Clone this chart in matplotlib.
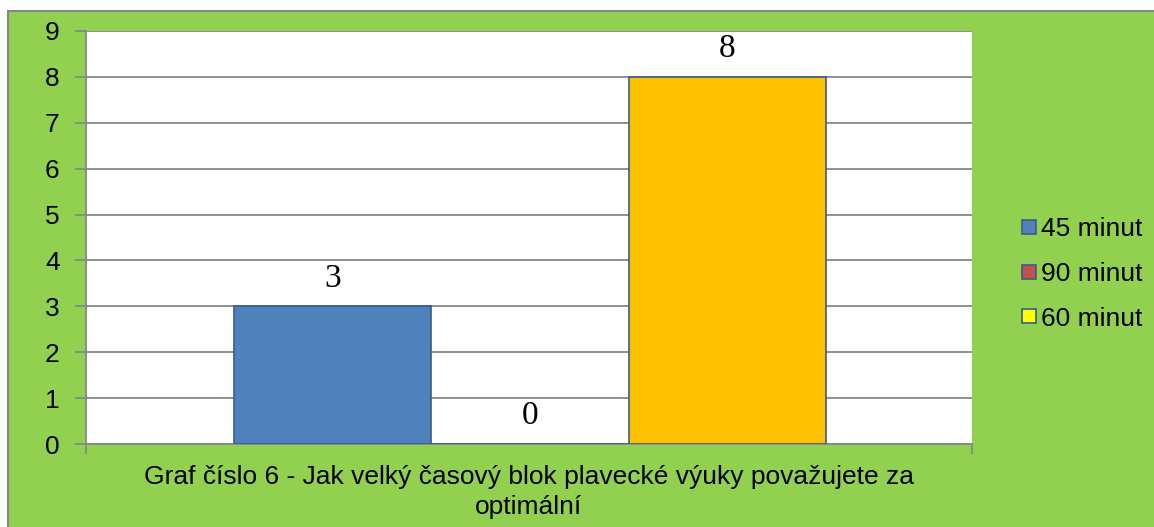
import matplotlib
matplotlib.use("Agg")
import matplotlib.pyplot as plt
from matplotlib.patches import Rectangle
from matplotlib.lines import Line2D

series = ["45 minut", "90 minut", "60 minut"]
values = [3, 0, 8]
yticks = [0, 1, 2, 3, 4, 5, 6, 7, 8, 9]
caption = "Graf číslo 6 - Jak velký časový blok plavecké výuky považujete za\noptimální"

bar_colors = ["#4F81BD", "#C0504D", "#FFC000"]
legend_colors = ["#4F81BD", "#C0504D", "#FFFF00"]
edge = "#385D8A"
green = "#92D050"
grey = "#878787"

W, H = 1154, 527
fig = plt.figure(figsize=(W / 100, H / 100), dpi=100)
fig.patch.set_facecolor("white")

# green chart background with grey left/top border
bg = Rectangle((8 / W, -0.01), 1.01, 1 - 11 / H + 0.01, transform=fig.transFigure,
               facecolor=green, edgecolor=grey, linewidth=1.5, zorder=-5)
fig.patches.append(bg)

ax = fig.add_axes([86 / W, 1 - 444 / H, (972 - 86) / W, (444 - 31) / H])
ax.set_zorder(1)
ax.set_facecolor("white")

xs = list(range(len(series)))
bars = ax.bar(xs, values, width=1.0, color=bar_colors, edgecolor=edge, linewidth=1.2, zorder=3)
for x, v in zip(xs, values):
    ax.annotate(str(v), (x, v), xytext=(0, 28), textcoords="offset pixels",
                ha="center", va="center", fontsize=24, family="Liberation Serif", zorder=4)

ax.set_xlim(-1.25, 3.24)
ax.set_ylim(0, 9)
ax.set_yticks(yticks)
ax.set_yticklabels([str(t) for t in yticks], fontsize=19, family="Liberation Sans")
ax.grid(axis="y", color=grey, linewidth=1.3, zorder=1)
ax.set_axisbelow(True)
ax.set_xticks([-1.25, 3.24])
ax.set_xticklabels(["", ""])
ax.tick_params(axis="x", direction="out", length=7, width=1.3, color=grey)
ax.tick_params(axis="y", direction="out", length=8, width=1.3, color=grey, pad=11)
for s in ["top", "right"]:
    ax.spines[s].set_visible(False)
for s in ["left", "bottom"]:
    ax.spines[s].set_color(grey)
    ax.spines[s].set_linewidth(1.3)

fig.text(529 / W, 1 - 492 / H, caption, ha="center", va="center", fontsize=19,
         family="Liberation Sans", linespacing=1.28)

handles = [Line2D([], [], linestyle="none", marker="s", markersize=10,
                  markerfacecolor=c, markeredgecolor=edge, markeredgewidth=1.2)
           for c in legend_colors]
fig.legend(handles, series, loc="center left", bbox_to_anchor=(1009 / W, 1 - 274 / H),
           frameon=False, prop={"family": "Liberation Sans", "size": 19},
           handlelength=0.5, handletextpad=0.2, labelspacing=0.78, borderpad=0)

fig.savefig("out.png", dpi=100, facecolor=fig.get_facecolor())
